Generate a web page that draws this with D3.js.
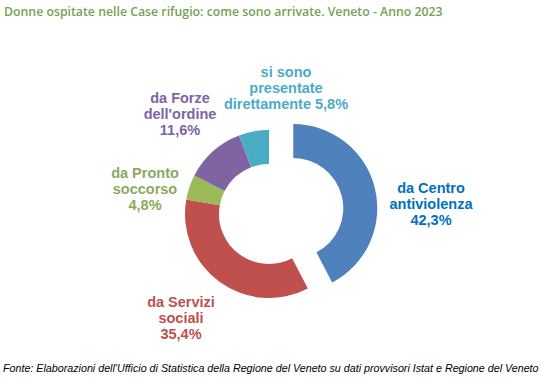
<!DOCTYPE html>
<html><head><meta charset="utf-8">
<script src="https://cdn.jsdelivr.net/npm/d3@7"></script>
<style>html,body{margin:0;padding:0;background:#fff;}svg{display:block;}</style>
</head><body>
<svg id="chart" width="541" height="377"></svg>
<script>
const title = "Donne ospitate nelle Case rifugio: come sono arrivate. Veneto - Anno 2023";
const source = "Fonte: Elaborazioni dell'Ufficio di Statistica della Regione del Veneto su dati provvisori Istat e Regione del Veneto";
const categories = ["da Centro antiviolenza", "da Servizi sociali", "da Pronto soccorso", "da Forze dell'ordine", "si sono presentate direttamente"];
const values = [42.3, 35.4, 4.8, 11.6, 5.8];
const labelLines = [
  ["da Centro", "antiviolenza", "42,3%"],
  ["da Servizi", "sociali", "35,4%"],
  ["da Pronto", "soccorso", "4,8%"],
  ["da Forze", "dell'ordine", "11,6%"],
  ["si sono", "presentate", "direttamente 5,8%"]
];
const sliceColors = ["#4F81BD", "#C0504D", "#9BBB59", "#8064A2", "#4BACC6"];
const labelColors = ["#0070C0", "#C0504D", "#8AAA5E", "#7F64A2", "#4BACC6"];

// layout
const cx = 269, cy = 214, R = 84, r = 50;
const explode = [25, 0, 0, 0, 0];
const labelOffsets = [[162, -10], [-88, 104], [-124, -25], [-89, -100], [17, -126]];
const lineH = 16.3;

const svg = d3.select("#chart");

// title
const t = svg.append("text").attr("x", 4).attr("y", 16)
  .attr("font-family", "'Open Sans', sans-serif").attr("font-weight", 600)
  .attr("font-size", 14).attr("fill", "#76A155").text(title);
let w = t.node().getComputedTextLength();
t.attr("font-size", 14 * 439 / w);

const pie = d3.pie().sort(null).value(d => d)(values);
const arc = d3.arc().innerRadius(r).outerRadius(R);
const g = svg.append("g").attr("transform", `translate(${cx},${cy})`);
g.selectAll("path").data(pie).join("path")
  .attr("d", arc)
  .attr("fill", (d, i) => sliceColors[i])
  .attr("transform", (d, i) => {
    const a = (d.startAngle + d.endAngle) / 2;
    return `translate(${explode[i] * Math.sin(a)},${-explode[i] * Math.cos(a)})`;
  });

// labels
pie.forEach((d, i) => {
  const lines = labelLines[i];
  const x = cx + labelOffsets[i][0], y = cy + labelOffsets[i][1];
  const txt = svg.append("text")
    .attr("font-family", "'Liberation Sans', Arial, sans-serif")
    .attr("font-weight", "bold").attr("font-size", 14.5)
    .attr("fill", labelColors[i]).attr("text-anchor", "middle");
  lines.forEach((l, k) => {
    txt.append("tspan").attr("x", x)
      .attr("y", y + (k - (lines.length - 1) / 2) * lineH + 5)
      .text(l);
  });
});

// source
const s = svg.append("text").attr("x", 3).attr("y", 372)
  .attr("font-family", "'Liberation Sans', Arial, sans-serif").attr("font-style", "italic")
  .attr("font-size", 10).attr("fill", "#000").text(source);
w = s.node().getComputedTextLength();
s.attr("font-size", 10 * 536 / w);
</script>
</body></html>
